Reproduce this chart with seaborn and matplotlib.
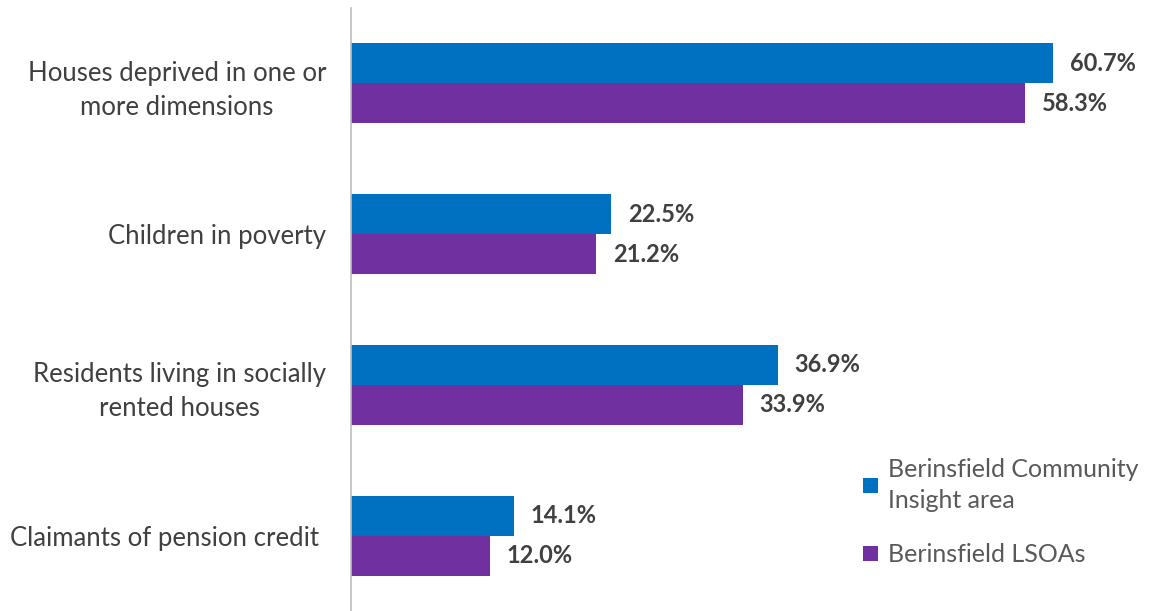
import pandas as pd
import matplotlib.pyplot as plt
import seaborn as sns
from matplotlib.patches import Patch

# data
categories = ['Houses deprived in one or\nmore dimensions',
              'Children in poverty',
              'Residents living in socially\nrented houses',
              'Claimants of pension credit ']
series_names = ['Berinsfield Community\nInsight area', 'Berinsfield LSOAs']
insight_area = [60.7, 22.5, 36.9, 14.1]
lsoas = [58.3, 21.2, 33.9, 12.0]
colors = ['#0070C0', '#7030A0']

df = pd.DataFrame({
    'category': categories * 2,
    'series': [series_names[0]] * 4 + [series_names[1]] * 4,
    'value': insight_area + lsoas,
})

sns.set_style('white')
plt.rcParams['font.family'] = ['Lato', 'DejaVu Sans']

fig = plt.figure(figsize=(11.5, 6.11), dpi=100)
ax = fig.add_axes([351 / 1150, 0, 799 / 1150, 603 / 611])

sns.barplot(data=df, x='value', y='category', hue='series', order=categories,
            hue_order=series_names, palette=colors, width=0.53, orient='h',
            saturation=1, linewidth=0, ax=ax, legend=False)

for cont in ax.containers:
    ax.bar_label(cont, labels=[f'{v:.1f}%' for v in cont.datavalues],
                 padding=12, fontsize=17, fontweight='bold', color='#404040')

ax.set_xlim(0, 69.1)
ax.set_xlabel('')
ax.set_ylabel('')
ax.set_xticks([])
ax.tick_params(axis='y', length=0, pad=18, labelsize=18.5, labelcolor='#404040')
for lab in ax.get_yticklabels():
    lab.set_multialignment('center')
    lab.set_linespacing(1.45)
for s in ['top', 'right', 'bottom']:
    ax.spines[s].set_visible(False)
ax.spines['left'].set_color('#BFBFBF')
ax.spines['left'].set_linewidth(1.2)

handles = [Patch(facecolor=c, edgecolor='none') for c in colors]
leg = fig.legend(handles, series_names, loc='upper left', bbox_to_anchor=(840 / 1150, 1 - 435 / 611),
                 frameon=False, fontsize=18, labelcolor='#595959', handlelength=0.6,
                 handleheight=0.6, handletextpad=0.4, labelspacing=1.25)
for t in leg.get_texts():
    t.set_linespacing(1.45)

fig.savefig('out.png', dpi=100)
